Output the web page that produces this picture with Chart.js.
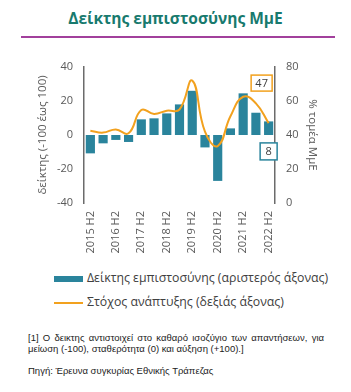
<!DOCTYPE html>
<html>
<head>
<meta charset="utf-8">
<script src="https://cdn.jsdelivr.net/npm/chart.js@4"></script>
<style>
    body { margin: 0; width: 351px; height: 392px; background: #fff; position: relative; overflow: hidden; }
    .title { position: absolute; left: 0; top: 7px; width: 351px; text-align: center; font: bold 15.5px "Open Sans", sans-serif; color: #187a6e; }
    .rule { position: absolute; left: 21px; top: 36px; width: 314px; height: 2px; background: #a2409c; }
    #wrap { position: absolute; left: 0; top: 40px; width: 351px; height: 225px; }
    .axt { position: absolute; width: 160px; height: 16px; line-height: 16px; text-align: center; font: 11.5px "Open Sans", sans-serif; color: #595959; white-space: nowrap; transform-origin: 0 0; }
    .legend { position: absolute; left: 54px; font: 12.3px "Open Sans", sans-serif; color: #404040; }
    .legend span { display: inline-block; width: 29px; vertical-align: middle; margin-right: 4px; }
    .note { position: absolute; left: 28px; width: 296px; font: 9.5px "Liberation Sans", Arial, sans-serif; color: #222; text-align: justify; line-height: 11px; }
</style>
</head>
<body>
<div class="title">Δείκτης εμπιστοσύνης ΜμΕ</div>
<div class="rule"></div>
<div id="wrap"><canvas id="chart" width="351" height="225"></canvas></div>
<div class="axt" style="left:34px;top:215px;transform:rotate(-90deg)">δείκτης (-100 έως 100)</div>
<div class="axt" style="left:321px;top:55px;transform:rotate(90deg)">% τομέα ΜμΕ</div>
<div class="legend" style="top:269px"><span style="height:6px;background:#2a849c"></span>Δείκτης εμπιστοσύνης (αριστερός άξονας)</div>
<div class="legend" style="top:293px"><span style="height:2px;background:#f2a11e"></span>Στόχος ανάπτυξης (δεξιάς άξονας)</div>
<div class="note" style="top:332px">[1] Ο δεικτης αντιστοιχεί στο καθαρό ισοζύγιο των απαντήσεων, για μείωση (-100), σταθερότητα (0) και αύξηση (+100).]</div>
<div class="note" style="top:365px">Πηγή: Έρευνα συγκυρίας Εθνικής Τράπεζας</div>
<script>
(function () {
    'use strict';

    const TEAL = '#2a849c';
    const ORANGE = '#f2a11e';
    const TICK = '#595959';

    const periods = ['2015 H2', '2016 H1', '2016 H2', '2017 H1', '2017 H2', '2018 H1', '2018 H2', '2019 H1',
        '2019 H2', '2020 H1', '2020 H2', '2021 H1', '2021 H2', '2022 H1', '2022 H2'];
    const confidence = [-10.8, -4.9, -2.9, -4.1, 9.2, 9.8, 12.7, 18, 26, -7.3, -27, 3.9, 24.5, 13.1, 8];
    const growthTarget = [42.5, 41.4, 43.3, 41, 54.7, 52.4, 54.3, 55, 72, 42, 33.5, 51, 62.5, 58.6, 47];
    const leftTicks = [-40, -20, 0, 20, 40];
    const rightTicks = [0, 20, 40, 60, 80];

    // boxes with the last values, hanging off the last category
    const callouts = {
        id: 'callouts',
        afterDatasetsDraw(chart) {
            const ctx = chart.ctx;
            const x = chart.scales.x.getPixelForValue(periods.length - 1);
            const yLine = chart.scales.y1.getPixelForValue(growthTarget[growthTarget.length - 1]);
            const yBar = chart.scales.y.getPixelForValue(confidence[confidence.length - 1]);
            box(ctx, x - 7, yLine - 40, 21, 16, ORANGE, String(growthTarget[growthTarget.length - 1]));
            box(ctx, x, yBar + 30, 17, 17, TEAL, String(confidence[confidence.length - 1]));
        }
    };

    function box(ctx, cx, cy, w, h, color, text) {
        ctx.save();
        ctx.fillStyle = '#fff';
        ctx.fillRect(cx - w / 2, cy - h / 2, w, h);
        ctx.strokeStyle = color;
        ctx.lineWidth = 1.5;
        ctx.strokeRect(cx - w / 2, cy - h / 2, w, h);
        ctx.fillStyle = '#404040';
        ctx.font = '11px "Open Sans", sans-serif';
        ctx.textAlign = 'center';
        ctx.textBaseline = 'middle';
        ctx.fillText(text, cx, cy + 0.5);
        ctx.restore();
    }

    const tickFont = { family: '"Open Sans", sans-serif', size: 11 };

    new Chart(document.getElementById('chart'), {
        data: {
            labels: periods,
            datasets: [{
                type: 'line',
                data: growthTarget,
                yAxisID: 'y1',
                borderColor: ORANGE,
                borderWidth: 2,
                pointRadius: 0,
                tension: 0.45,
                order: 0
            }, {
                type: 'bar',
                data: confidence,
                yAxisID: 'y',
                backgroundColor: TEAL,
                categoryPercentage: 1,
                barPercentage: 0.72,
                order: 1
            }]
        },
        options: {
            responsive: false,
            animation: false,
            layout: { padding: { top: 27 } },
            plugins: { legend: { display: false }, tooltip: { enabled: false } },
            scales: {
                x: {
                    grid: { display: false, drawTicks: false },
                    border: { display: false },
                    ticks: {
                        autoSkip: false, minRotation: 90, maxRotation: 90, padding: 8,
                        color: TICK, font: tickFont,
                        callback: (v, i) => (i % 2 === 0 ? periods[i] : '')
                    },
                    afterFit: s => { s.height = 62; }
                },
                y: {
                    position: 'left', min: -40, max: 40,
                    grid: { display: false, drawTicks: false },
                    border: { display: true, color: '#6b6b6b', width: 1.5 },
                    ticks: { padding: 11, color: TICK, font: tickFont, callback: v => (leftTicks.includes(v) ? v : null), stepSize: 20 },
                    afterFit: s => { s.width = 84; }
                },
                y1: {
                    position: 'right', min: 0, max: 80,
                    grid: { display: false, drawTicks: false },
                    border: { display: true, color: '#6b6b6b', width: 1.5 },
                    ticks: { padding: 11, color: TICK, font: tickFont, callback: v => (rightTicks.includes(v) ? v : null), stepSize: 20 },
                    afterFit: s => { s.width = 76; }
                }
            }
        },
        plugins: [callouts]
    });
})();
</script>
</body>
</html>
